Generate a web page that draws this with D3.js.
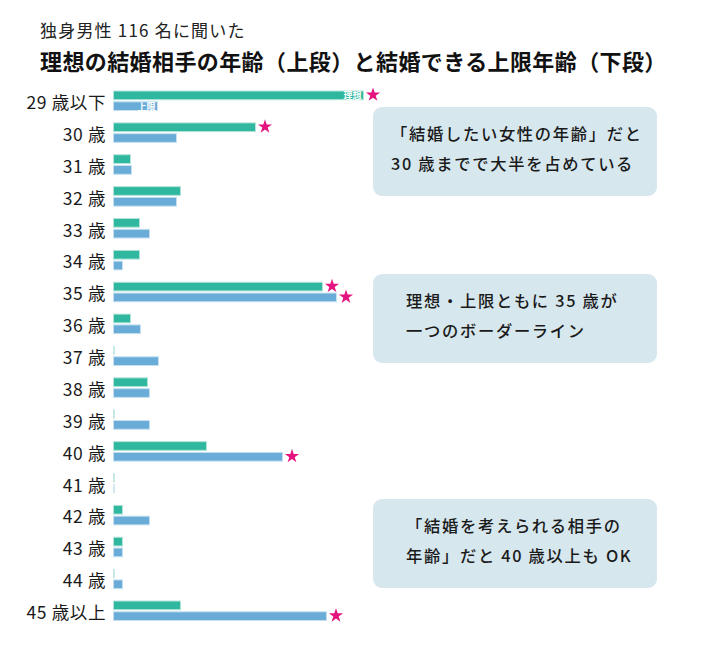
<!DOCTYPE html>
<html>
<head>
<meta charset="utf-8">
<script src="https://cdn.jsdelivr.net/npm/d3@7"></script>
<style>
  html, body { margin: 0; padding: 0; background: #fff; }
  svg { display: block; }
  text { font-family: "Noto Sans CJK JP", "Noto Sans", sans-serif; }
</style>
</head>
<body>
<svg id="chart" width="708" height="667"></svg>
<script>
// ---- data (percent of 116 single men) ----
const categories = ["29 歳以下","30 歳","31 歳","32 歳","33 歳","34 歳","35 歳","36 歳","37 歳","38 歳","39 歳","40 歳","41 歳","42 歳","43 歳","44 歳","45 歳以上"];
const ideal = [25.0, 14.2, 1.7, 6.7, 2.6, 2.6, 20.9, 1.7, 0, 3.4, 0, 9.3, 0, 0.9, 0.9, 0, 6.7];
const upper = [4.4, 6.3, 1.8, 6.3, 3.6, 0.9, 22.3, 2.7, 4.5, 3.6, 3.6, 16.9, 0, 3.6, 0.9, 0.9, 21.3];
const seriesNames = ["理想", "上限"];
const idealStars = ["29 歳以下", "30 歳", "35 歳"];
const upperStars = ["35 歳", "40 歳", "45 歳以上"];
const subtitle = "独身男性 116 名に聞いた";
const title = "理想の結婚相手の年齢（上段）と結婚できる上限年齢（下段）";
const notes = [
  { lines: ["「結婚したい女性の年齢」だと", "30 歳までで大半を占めている"] },
  { lines: ["理想・上限ともに 35 歳が", "一つのボーダーライン"] },
  { lines: ["「結婚を考えられる相手の", "年齢」だと 40 歳以上も OK"] }
];

// ---- layout ----
const svg = d3.select("#chart");
const colors = { ideal: "#2fb89f", upper: "#69acd7" };
const strokes = { ideal: "#b3e4d9", upper: "#c6e0f1" };

const y = d3.scaleBand().domain(categories).range([91, 91 + 17 * 31.875]).padding(0);
const ySub = d3.scaleBand().domain(["ideal", "upper"]).range([0, 20.5]).paddingInner(0.1);
const x = d3.scaleLinear().domain([0, 30]).range([113.5, 413.5]);

// titles
svg.append("text").attr("x", 40).attr("y", 37).attr("font-size", 17).attr("letter-spacing", 1.2)
  .attr("fill", "#222").text(subtitle);
svg.append("text").attr("x", 40).attr("y", 70).attr("font-size", 22).attr("font-weight", 700)
  .attr("letter-spacing", 0.4).attr("fill", "#111").text(title);

// annotation boxes
const boxTops = [107, 274, 499];
const g = svg.append("g");
notes.forEach((n, i) => {
  const top = boxTops[i];
  g.append("rect").attr("x", 373).attr("y", top).attr("width", 284).attr("height", 89)
    .attr("rx", 9).attr("fill", "#d6e7ee");
  const tx = i === 0 ? 391 : 406;
  n.lines.forEach((l, j) => {
    g.append("text").attr("x", tx).attr("y", top + 26 + j * 30)
      .attr("dominant-baseline", "central")
      .attr("font-size", 16.3).attr("font-weight", 500).attr("letter-spacing", 1.7)
      .attr("fill", "#1a1a1a").text(l);
  });
});

// category labels
svg.append("g").selectAll("text").data(categories).join("text")
  .attr("x", 106).attr("y", d => y(d) + 10.5)
  .attr("text-anchor", "end").attr("dominant-baseline", "central")
  .attr("font-size", 17.5).attr("letter-spacing", 0.6).attr("fill", "#1a1a1a").text(d => d);

// bars
const rows = categories.map((c, i) => ({ c, ideal: ideal[i], upper: upper[i] }));
["ideal", "upper"].forEach(key => {
  svg.append("g").selectAll("rect").data(rows).join("rect")
    .attr("x", x(0))
    .attr("y", d => y(d.c) + ySub(key))
    .attr("width", d => Math.max(x(d[key]) - x(0), 1))
    .attr("height", ySub.bandwidth() - 1)
    .attr("fill", d => d[key] > 0 ? colors[key] : strokes[key])
    .attr("stroke", strokes[key]).attr("stroke-width", d => d[key] > 0 ? 1 : 0.5);
});

// in-bar series labels on first row
["ideal", "upper"].forEach((key, k) => {
  const d = rows[0];
  svg.append("text")
    .attr("x", x(d[key]) - 2)
    .attr("y", y(d.c) + ySub(key) + ySub.bandwidth() / 2 - 0.5)
    .attr("text-anchor", "end").attr("dominant-baseline", "central")
    .attr("font-size", 9).attr("font-weight", 700).attr("fill", "#fff")
    .text(seriesNames[k]);
});

// stars
const star = d3.symbol().type(d3.symbolStar).size(62);
const starData = [
  ...idealStars.map(c => ({ c, key: "ideal" })),
  ...upperStars.map(c => ({ c, key: "upper" }))
];
svg.append("g").selectAll("path").data(starData).join("path")
  .attr("d", star)
  .attr("transform", d => {
    const v = d.key === "ideal" ? ideal[categories.indexOf(d.c)] : upper[categories.indexOf(d.c)];
    return `translate(${x(v) + 9.5},${y(d.c) + ySub(d.key) + ySub.bandwidth() / 2 - 1})`;
  })
  .attr("fill", "#e5137f");
</script>
</body>
</html>
